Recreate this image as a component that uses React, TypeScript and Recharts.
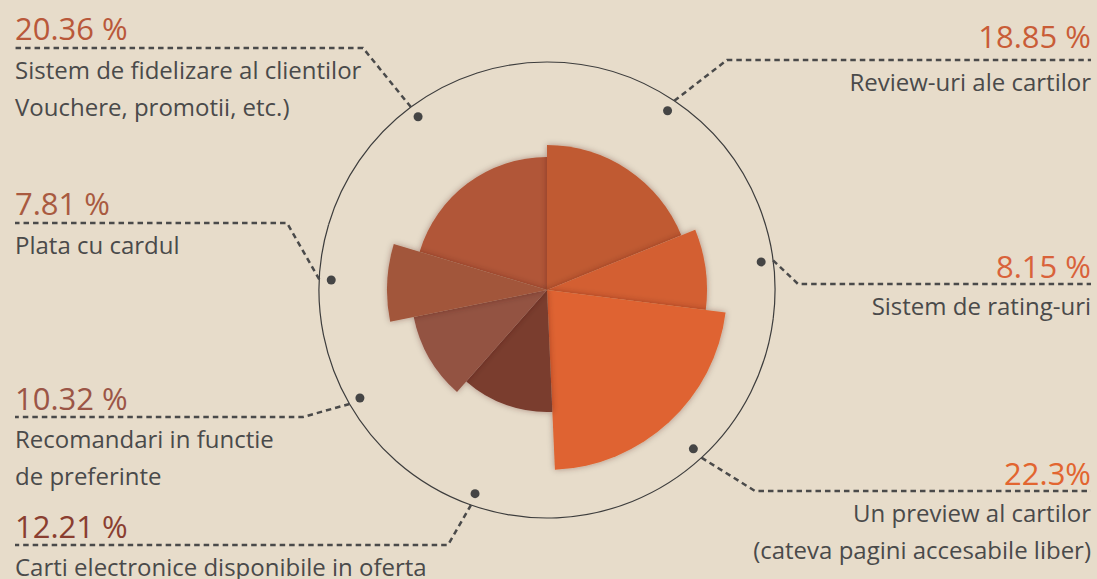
import { Cell, Pie, PieChart } from "recharts";

const categories = [
  "Review-uri ale cartilor",
  "Sistem de rating-uri",
  "Un preview al cartilor",
  "Carti electronice disponibile in oferta",
  "Recomandari in functie de preferinte",
  "Plata cu cardul",
  "Sistem de fidelizare al clientilor",
];
// share of the circle (percent)
const shares = [18.85, 8.15, 22.3, 12.21, 10.32, 7.81, 20.36];
// petal length, relative (largest = 180)
const petalLength = [145, 160, 180, 122, 136, 160, 133];
const shareLabels = ["18.85 %", "8.15 %", "22.3%", "12.21 %", "10.32 %", "7.81 %", "20.36 %"];
const descLines = [
  ["Review-uri ale cartilor"],
  ["Sistem de rating-uri"],
  ["Un preview al cartilor", "(cateva pagini accesabile liber)"],
  ["Carti electronice disponibile in oferta"],
  ["Recomandari in functie", "de preferinte"],
  ["Plata cu cardul"],
  ["Sistem de fidelizare al clientilor", "Vouchere, promotii, etc.)"],
];

const petalColors = ["#c05a33", "#d35f32", "#df6430", "#7a3c2f", "#935243", "#a2563b", "#b15638"];
const labelColors = ["#c95c37", "#d9623a", "#e2652f", "#8a3e30", "#9b5546", "#a95a40", "#b9583a"];

// leader line placement per category
const layout = [
  { side: "right", lineY: 60, elbowX: 727, pctDy: 12 },
  { side: "right", lineY: 284, elbowX: 798, pctDy: 6 },
  { side: "right", lineY: 491, elbowX: 755, pctDy: 6 },
  { side: "left", lineY: 545, elbowX: 448, pctDy: 7 },
  { side: "left", lineY: 417, elbowX: 303, pctDy: 7 },
  { side: "left", lineY: 223, elbowX: 287, pctDy: 8 },
  { side: "left", lineY: 48, elbowX: 363, pctDy: 8 },
];

const data = categories.map((name, i) => ({ name, value: shares[i] }));

const W = 1097;
const H = 579;
const CX = 547;
const CY = 290;
const RING = 228;
const MAX_R = 180;
const maxLen = Math.max(...petalLength);
const RAD = Math.PI / 180;
const ink = "#4a4a4a";

function renderLabel(props: any) {
  const { cx, cy, midAngle, index } = props;
  const l = layout[index];
  const cos = Math.cos(-midAngle * RAD);
  const sin = Math.sin(-midAngle * RAD);
  const dx = cx + 216 * cos;
  const dy = cy + 216 * sin;
  const sx = cx + RING * cos;
  const sy = cy + RING * sin;
  const left = l.side === "left";
  const edgeX = left ? 15 : 1091;
  const anchor = left ? "start" : "end";
  return (
    <g key={`lbl-${index}`}>
      <circle cx={dx} cy={dy} r={4.5} fill="#454545" />
      <polyline
        points={`${sx},${sy} ${l.elbowX},${l.lineY} ${edgeX},${l.lineY}`}
        fill="none"
        stroke={ink}
        strokeWidth={2.5}
        strokeDasharray="5.5 4"
      />
      <text
        x={edgeX}
        y={l.lineY - l.pctDy}
        textAnchor={anchor}
        fontSize={31}
        fill={labelColors[index]}
        fontFamily="'Open Sans', sans-serif"
      >
        {shareLabels[index]}
      </text>
      {descLines[index].map((t, k) => (
        <text
          key={k}
          x={edgeX}
          y={l.lineY + 31 + k * 37}
          textAnchor={anchor}
          fontSize={24}
          fill={ink}
          fontFamily="'Open Sans', sans-serif"
        >
          {t}
        </text>
      ))}
    </g>
  );
}

// drawing order so that shadows fall like in the original
const order = [6, 0, 1, 2, 3, 4, 5];

export default function App() {
  return (
    <div style={{ width: W, height: H, background: "#e7dcca" }}>
      <style>{`body{margin:0}`}</style>
      <PieChart width={W} height={H} margin={{ top: 0, right: 0, bottom: 0, left: 0 }}>
        <defs>
          <filter id="petalShadow" x="-30%" y="-30%" width="160%" height="160%">
            <feDropShadow dx="0" dy="0" stdDeviation="3" floodColor="#3a2010" floodOpacity="0.35" />
          </filter>
        </defs>
        {order.map((i) => (
          <Pie
            key={`petal-${i}`}
            data={data}
            dataKey="value"
            nameKey="name"
            cx={CX}
            cy={CY}
            startAngle={90}
            endAngle={-270}
            innerRadius={0}
            outerRadius={(petalLength[i] / maxLen) * MAX_R}
            stroke="none"
            isAnimationActive={false}
          >
            {data.map((_, j) => (
              <Cell
                key={j}
                fill={j === i ? petalColors[i] : "transparent"}
                filter={j === i ? "url(#petalShadow)" : undefined}
              />
            ))}
          </Pie>
        ))}
        <Pie
          data={data}
          dataKey="value"
          nameKey="name"
          cx={CX}
          cy={CY}
          startAngle={90}
          endAngle={-270}
          innerRadius={RING}
          outerRadius={RING}
          fill="none"
          stroke="#3d3d3d"
          strokeWidth={1.2}
          label={renderLabel}
          labelLine={false}
          isAnimationActive={false}
        />
      </PieChart>
    </div>
  );
}
